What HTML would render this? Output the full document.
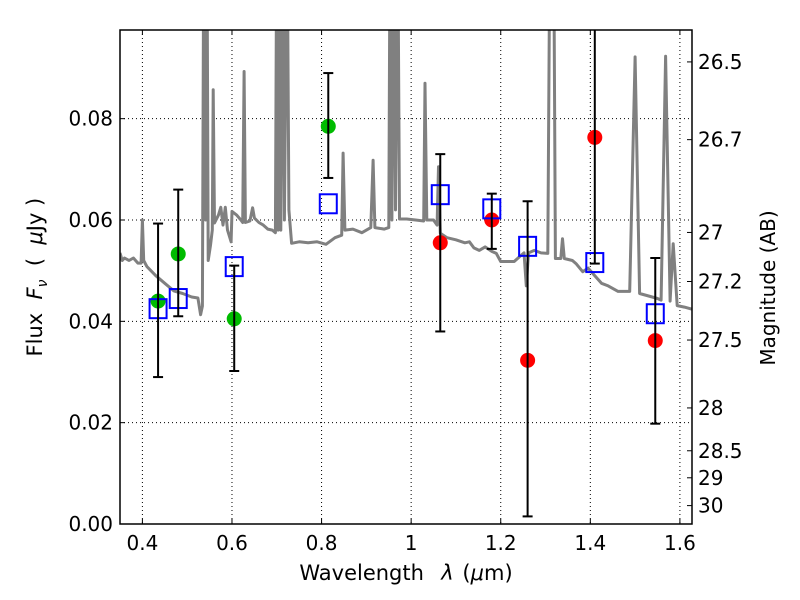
<!DOCTYPE html>
<html><head><meta charset="utf-8"><style>
body{margin:0;background:#fff;}
svg{display:block;font-family:"DejaVu Sans","Liberation Sans",sans-serif;}
</style></head><body>
<svg id="chart" width="800" height="600" viewBox="0 0 800 600"></svg>
<script>
// ---- data ----
const xTicks = [0.4,0.6,0.8,1.0,1.2,1.4,1.6];
const xTickLabels = ["0.4","0.6","0.8","1","1.2","1.4","1.6"];
const yTicks = [0,0.02,0.04,0.06,0.08];
const yTickLabels = ["0.00","0.02","0.04","0.06","0.08"];
const magTicks = [26.5,26.7,27,27.2,27.5,28,28.5,29,30];
const magTickLabels = ["26.5","26.7","27","27.2","27.5","28","28.5","29","30"];
const greenX = [0.435,0.48,0.605,0.815];
const greenY = [0.044,0.0533,0.0405,0.0785];
const redX = [1.065,1.18,1.26,1.41,1.545];
const redY = [0.0555,0.060,0.0323,0.0763,0.0362];
const sqX = [0.435,0.48,0.605,0.815,1.065,1.18,1.26,1.41,1.545];
const sqY = [0.0425,0.0445,0.0508,0.0632,0.065,0.0622,0.0548,0.0516,0.0415];
const errX = [0.435,0.48,0.605,0.815,1.065,1.18,1.26,1.41,1.545];
const errLo = [0.029,0.041,0.0302,0.0683,0.038,0.0543,0.0015,0.0514,0.0198];
const errHi = [0.0593,0.066,0.051,0.089,0.073,0.0652,0.0637,0.11,0.0525];
const specWave = [0.35,0.355,0.36,0.37,0.38,0.39,0.397,0.4,0.403,0.41,0.43,0.45,0.47,0.49,0.51,0.524,0.53,0.534,0.537,0.541,0.544,0.547,0.552,0.556,0.558,0.561,0.57,0.575,0.58,0.585,0.59,0.598,0.6,0.61,0.62,0.624,0.627,0.63,0.64,0.646,0.65,0.66,0.67,0.68,0.69,0.697,0.70,0.703,0.706,0.709,0.713,0.717,0.723,0.727,0.733,0.75,0.77,0.79,0.81,0.83,0.845,0.848,0.852,0.87,0.89,0.91,0.915,0.919,0.94,0.95,0.953,0.957,0.961,0.965,0.97,0.974,0.99,1.01,1.028,1.031,1.035,1.05,1.058,1.061,1.065,1.08,1.1,1.12,1.13,1.14,1.152,1.165,1.18,1.19,1.2,1.23,1.245,1.252,1.257,1.262,1.275,1.29,1.305,1.31,1.318,1.322,1.334,1.338,1.342,1.36,1.368,1.383,1.395,1.41,1.425,1.44,1.462,1.488,1.5,1.51,1.53,1.55,1.558,1.568,1.578,1.585,1.594,1.61,1.627];
const specFlux = [0.0535,0.052,0.0525,0.052,0.0525,0.0515,0.0515,0.060,0.052,0.0508,0.049,0.0475,0.046,0.0455,0.0448,0.0446,0.0413,0.043,0.12,0.06,0.12,0.052,0.055,0.058,0.0857,0.0594,0.061,0.0625,0.059,0.0625,0.058,0.0557,0.0617,0.061,0.060,0.0595,0.0893,0.0595,0.0598,0.0624,0.0604,0.0595,0.059,0.0582,0.058,0.0575,0.12,0.058,0.12,0.058,0.12,0.06,0.12,0.062,0.0554,0.0557,0.0555,0.0557,0.0552,0.0565,0.057,0.0732,0.058,0.0582,0.0575,0.0585,0.0718,0.0585,0.0582,0.0585,0.12,0.06,0.12,0.062,0.12,0.0602,0.0602,0.06,0.0598,0.087,0.06,0.06,0.059,0.0705,0.0574,0.0565,0.0561,0.0555,0.0557,0.0545,0.054,0.0547,0.0538,0.0534,0.0518,0.0518,0.053,0.0535,0.047,0.0535,0.054,0.0535,0.0534,0.12,0.12,0.0524,0.0524,0.0563,0.0524,0.052,0.0514,0.0498,0.0505,0.049,0.0475,0.047,0.0459,0.0459,0.0922,0.0455,0.045,0.0445,0.0442,0.0923,0.044,0.0553,0.0431,0.0428,0.0424];

// ---- layout ----
const L=120,R=692,T=30,B=524;
const xMin=0.35,xMax=1.627,yMin=0,yMax=0.0975;
const X=v=>L+(v-xMin)/(xMax-xMin)*(R-L);
const Y=v=>B-(v-yMin)/(yMax-yMin)*(B-T);
const magToFlux=m=>Math.pow(10,(23.9-m)/2.5);
const svg=document.getElementById('chart');
const NS='http://www.w3.org/2000/svg';
function mk(tag,attrs,parent){const e=document.createElementNS(NS,tag);for(const k in attrs)e.setAttribute(k,attrs[k]);(parent||svg).appendChild(e);return e;}

const defs=mk('defs',{});
const cp=mk('clipPath',{id:'plotclip'},defs);
mk('rect',{x:L,y:T,width:R-L,height:B-T},cp);

// grid
const grid=mk('g',{});


xTicks.forEach(t=>{mk('line',{x1:X(t),x2:X(t),y1:T,y2:B,stroke:'#000','stroke-width':1,'stroke-dasharray':'1,3'},grid);});
yTicks.forEach(t=>{mk('line',{x1:L,x2:R,y1:Y(t),y2:Y(t),stroke:'#000','stroke-width':1,'stroke-dasharray':'1,3'},grid);});

// spectrum
const g=mk('g',{'clip-path':'url(#plotclip)'});
const pts=specWave.map((w,i)=>X(w).toFixed(1)+','+Y(specFlux[i]).toFixed(1)).join(' ');
const sp=mk('polyline',{points:pts,fill:'none',stroke:'#808080','stroke-width':3,'stroke-linejoin':'round'},g);



// circles
greenX.forEach((x,i)=>{const c=mk('circle',{cx:X(x),cy:Y(greenY[i]),r:7.5,fill:'#00bb00'},g);

});
redX.forEach((x,i)=>{const c=mk('circle',{cx:X(x),cy:Y(redY[i]),r:7.5,fill:'#ff0000'},g);

});
// squares
sqX.forEach((x,i)=>{const r=mk('rect',{x:X(x)-8.5,y:Y(sqY[i])-9.5,width:17,height:19,fill:'none',stroke:'#0000ff','stroke-width':2},g);

});
// error bars
errX.forEach((x,i)=>{const eg=mk('g',{stroke:'#000','stroke-width':2},g);


const cx=X(x);mk('line',{x1:cx,x2:cx,y1:Y(errLo[i]),y2:Y(errHi[i])},eg);
mk('line',{x1:cx-5,x2:cx+5,y1:Y(errLo[i]),y2:Y(errLo[i])},eg);
mk('line',{x1:cx-5,x2:cx+5,y1:Y(errHi[i]),y2:Y(errHi[i])},eg);});

// frame
const fr=mk('rect',{x:L,y:T,width:R-L,height:B-T,fill:'none',stroke:'#000','stroke-width':1.5});



// ticks & labels
xTicks.forEach((t,i)=>{const x=X(t);
mk('line',{x1:x,x2:x,y1:B,y2:B-5,stroke:'#000'});mk('line',{x1:x,x2:x,y1:T,y2:T+5,stroke:'#000'});
const tx=mk('text',{x:x,y:B+26,'text-anchor':'middle','font-size':20},);tx.textContent=xTickLabels[i];

});
yTicks.forEach((t,i)=>{const y=Y(t);
mk('line',{x1:L,x2:L+5,y1:y,y2:y,stroke:'#000'});
const tx=mk('text',{x:L-7,y:y+7,'text-anchor':'end','font-size':20});tx.textContent=yTickLabels[i];

});
magTicks.forEach((m,i)=>{const y=Y(magToFlux(m));
mk('line',{x1:R,x2:R-5,y1:y,y2:y,stroke:'#000'});
const tx=mk('text',{x:R+6,y:y+7,'text-anchor':'start','font-size':20});tx.textContent=magTickLabels[i];

});
</script>
<div style="position:absolute;left:0;top:0;width:800px;height:600px;pointer-events:none;font-family:'DejaVu Sans','Liberation Sans',sans-serif;">
<div style="position:absolute;left:206px;top:561px;width:400px;text-align:center;font-size:21px;word-spacing:2px;">Wavelength &nbsp;<i>λ</i> (<i>μ</i>m)</div>
<div style="position:absolute;left:-163px;top:263px;width:400px;text-align:center;font-size:21px;transform:rotate(-90deg);">Flux &nbsp;<i>F<sub style="font-size:14px">ν</sub></i> &nbsp;( &nbsp;<i>μ</i>Jy )</div>
<div style="position:absolute;left:568px;top:276px;width:400px;text-align:center;font-size:20px;transform:rotate(-90deg);">Magnitude (AB)</div>
</div>
</body></html>
